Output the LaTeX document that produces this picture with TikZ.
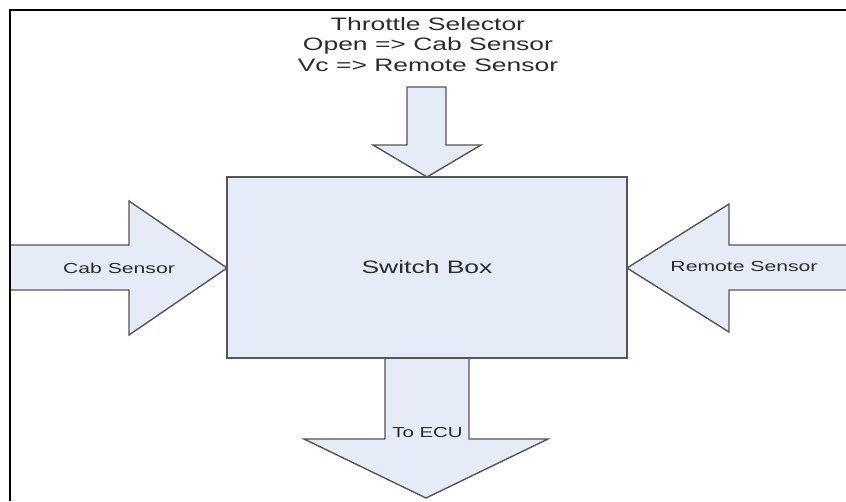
\documentclass[tikz,border=0pt]{standalone}
\usepackage{fontspec}
\setmainfont{Liberation Sans}
\definecolor{blockfill}{HTML}{E6ECF7}
\definecolor{blockline}{HTML}{555555}
\definecolor{labeltext}{HTML}{2B2B2B}

\begin{document}
\begin{tikzpicture}[x=1pt,y=-1pt,
    block/.style={fill=blockfill, draw=blockline, line width=1.4pt, line join=miter},
    bigtext/.style={text=labeltext, font=\fontsize{18}{20.5}\selectfont, xscale=1.47, inner sep=0pt},
    sidetext/.style={text=labeltext, font=\fontsize{14.5}{16}\selectfont, xscale=1.46, inner sep=0pt},
    ecutext/.style={text=labeltext, font=\fontsize{14.5}{16}\selectfont, xscale=1.41, inner sep=0pt}]

  \useasboundingbox (0,0) rectangle (846,501);
  \fill[white] (0,0) rectangle (846,501);

  % input arrows
  \filldraw[block] (407,87) -- (446,87) -- (446,145) -- (481,145) -- (427,177) -- (373,145) -- (407,145) -- cycle;
  \filldraw[block] (10,245) -- (129,245) -- (129,201) -- (227,268) -- (129,335) -- (129,290) -- (10,290) -- cycle;
  \filldraw[block] (852,245) -- (729,245) -- (729,204) -- (627,268) -- (729,332) -- (729,290) -- (852,290) -- cycle;

  % output arrow
  \filldraw[block] (385,358) -- (469,358) -- (469,439) -- (548,439) -- (426,498) -- (304,439) -- (385,439) -- cycle;

  \node[block, minimum width=400pt, minimum height=181pt, inner sep=0pt] (switch) at (427,267.5) {};

  \node[bigtext] (switchlabel) at (switch.center) {Switch Box};
  \node[bigtext, align=center, anchor=north] (selector) at (428,17)
    {Throttle Selector\\Open => Cab Sensor\\Vc => Remote Sensor};
  \node[sidetext] (cab) at (119,268) {Cab Sensor};
  \node[sidetext] (remote) at (744,267) {Remote Sensor};
  \node[ecutext, anchor=base] (ecu) at (427.5,437) {To ECU};

  % frame
  \draw[line width=2.5pt] (10,501) -- (10,10) -- (846,10);
\end{tikzpicture}
\end{document}
